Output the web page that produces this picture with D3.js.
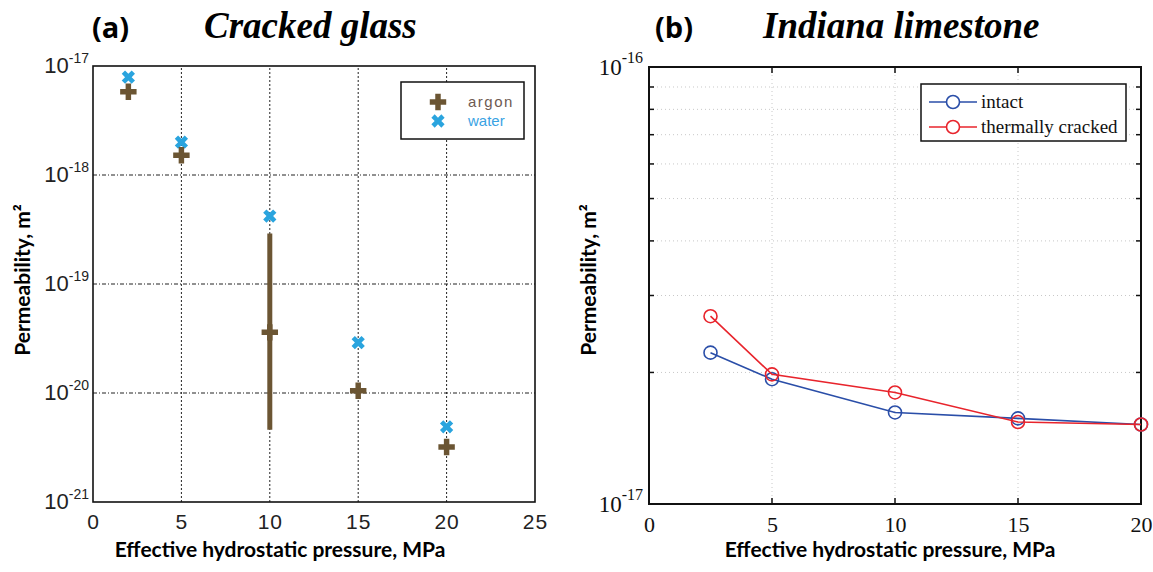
<!DOCTYPE html>
<html>
<head>
<meta charset="utf-8">
<script src="https://cdn.jsdelivr.net/npm/d3@7"></script>
<style>
  body { margin: 0; background: #fff; }
  svg { display: block; }
</style>
</head>
<body>
<svg width="1153" height="572"></svg>
<script>
// (a) cracked glass
var glassPressure = [2, 5, 10, 15, 20];
var argonPerm = [5.8e-18, 1.52e-18, 3.6e-20, 1.05e-20, 3.2e-21];
var waterPerm = [7.9e-18, 2.0e-18, 4.2e-19, 2.9e-20, 4.9e-21];
var errPressure = [10];
var errLow = [4.6e-21];
var errHigh = [2.9e-19];
var glassXTicks = [0, 5, 10, 15, 20, 25];
var glassYTicks = [-21, -20, -19, -18, -17];

// (b) Indiana limestone
var limePressure = [2.5, 5, 10, 15, 20];
var intactPerm = [2.22e-17, 1.93e-17, 1.62e-17, 1.57e-17, 1.52e-17];
var crackedPerm = [2.69e-17, 1.98e-17, 1.80e-17, 1.54e-17, 1.52e-17];
var limeXTicks = [0, 5, 10, 15, 20];
var limeYTicks = [-17, -16];
var limeMinor = [2, 3, 4, 5, 6, 7, 8, 9];

var svg = d3.select('svg');

var brown = '#6b5533';
var blueX = '#2aa4de';

// ---------- panel a ----------
var xA = d3.scaleLinear().domain([0, 25]).range([93, 535]);
var yA = d3.scaleLog().domain([1e-21, 1e-17]).range([502, 66]);

var gA = svg.append('g');

// grid
gA.selectAll('.vgrid')
  .data([5, 10, 15, 20])
  .enter().append('line')
  .attr('x1', function(d) { return xA(d); })
  .attr('x2', function(d) { return xA(d); })
  .attr('y1', yA.range()[0])
  .attr('y2', yA.range()[1])
  .attr('stroke', '#222')
  .attr('stroke-width', 1)
  .attr('stroke-dasharray', '2,2');

gA.selectAll('.hgrid')
  .data([-20, -19, -18])
  .enter().append('line')
  .attr('x1', xA.range()[0])
  .attr('x2', xA.range()[1])
  .attr('y1', function(d) { return yA(Math.pow(10, d)); })
  .attr('y2', function(d) { return yA(Math.pow(10, d)); })
  .attr('stroke', '#222')
  .attr('stroke-width', 1)
  .attr('stroke-dasharray', '4,2,1,2');

// frame
gA.append('rect')
  .attr('x', xA.range()[0])
  .attr('y', yA.range()[1])
  .attr('width', xA.range()[1] - xA.range()[0])
  .attr('height', yA.range()[0] - yA.range()[1])
  .attr('fill', 'none')
  .attr('stroke', '#111')
  .attr('stroke-width', 1.6);

// x axis
var xAxisA = d3.axisBottom(xA).tickValues(glassXTicks).tickSize(0).tickPadding(12);
gA.append('g')
  .attr('transform', 'translate(0,' + yA.range()[0] + ')')
  .call(xAxisA)
  .call(function(g) { g.select('.domain').remove(); })
  .selectAll('text')
  .attr('font-family', '"Liberation Sans Narrow", "Liberation Sans", Arial, sans-serif')
  .attr('font-size', 21)
  .attr('letter-spacing', 1)
  .attr('fill', '#222');

// y axis
var yAxisA = d3.axisLeft(yA)
  .tickValues(glassYTicks.map(function(e) { return Math.pow(10, e); }))
  .tickSize(0).tickPadding(4)
  .tickFormat(function() { return ''; });
var yg = gA.append('g')
  .attr('transform', 'translate(' + xA.range()[0] + ',0)')
  .call(yAxisA);
yg.select('.domain').remove();
yg.selectAll('.tick text')
  .data(glassYTicks)
  .attr('font-family', '"Liberation Sans Narrow", "Liberation Sans", Arial, sans-serif')
  .attr('fill', '#222')
  .attr('dy', '0.6em')
  .each(function(e) {
    var t = d3.select(this);
    t.append('tspan').attr('font-size', 22).text('10');
    t.append('tspan').attr('font-size', 14).attr('dy', -10).text(e);
  });

// error bar
gA.selectAll('.err')
  .data(errPressure)
  .enter().append('line')
  .attr('x1', function(d) { return xA(d); })
  .attr('x2', function(d) { return xA(d); })
  .attr('y1', function(d, i) { return yA(errLow[i]); })
  .attr('y2', function(d, i) { return yA(errHigh[i]); })
  .attr('stroke', brown)
  .attr('stroke-width', 5);

var plusSym = d3.symbol().type(d3.symbolCross).size(150);
var xSym = d3.symbol().type(d3.symbolCross).size(110);

gA.selectAll('.water')
  .data(glassPressure)
  .enter().append('path')
  .attr('d', xSym)
  .attr('transform', function(d, i) {
    return 'translate(' + xA(d) + ',' + yA(waterPerm[i]) + ') rotate(45)';
  })
  .attr('fill', blueX);

gA.selectAll('.argon')
  .data(glassPressure)
  .enter().append('path')
  .attr('d', plusSym)
  .attr('transform', function(d, i) {
    return 'translate(' + xA(d) + ',' + yA(argonPerm[i]) + ')';
  })
  .attr('fill', brown);

// legend a
var legA = gA.append('g');
legA.append('rect')
  .attr('x', 401).attr('y', 82).attr('width', 123).attr('height', 57)
  .attr('fill', '#fff').attr('stroke', '#111').attr('stroke-width', 1.5);
legA.append('path').attr('d', plusSym)
  .attr('transform', 'translate(438,102)').attr('fill', brown);
legA.append('path').attr('d', xSym)
  .attr('transform', 'translate(438,121) rotate(45)').attr('fill', blueX);
legA.append('text').attr('x', 468).attr('y', 107)
  .attr('font-family', '"Liberation Sans", Arial, sans-serif')
  .attr('font-size', 15).attr('letter-spacing', 1.5)
  .attr('fill', '#6e5a52').text('argon');
legA.append('text').attr('x', 468).attr('y', 126)
  .attr('font-family', '"Liberation Sans", Arial, sans-serif')
  .attr('font-size', 15)
  .attr('fill', '#3aa3e3').text('water');

// titles a
svg.append('text').attr('x', 92).attr('y', 38)
  .attr('font-family', '"Open Sans", "Noto Sans", sans-serif')
  .attr('font-weight', 'bold').attr('font-size', 29)
  .text('(a)');
svg.append('text').attr('x', 204).attr('y', 38)
  .attr('font-family', '"Liberation Serif", "Times New Roman", serif')
  .attr('font-weight', 'bold').attr('font-style', 'italic').attr('font-size', 37)
  .text('Cracked glass');

// axis labels a
svg.append('text')
  .attr('x', 280).attr('y', 557)
  .attr('text-anchor', 'middle')
  .attr('font-family', 'Lato, "Open Sans", sans-serif')
  .attr('font-weight', 'bold').attr('font-size', 21)
  .text('Effective hydrostatic pressure, MPa');
svg.append('text')
  .attr('transform', 'translate(30,280) rotate(-90)')
  .attr('text-anchor', 'middle')
  .attr('font-family', 'Lato, "Open Sans", sans-serif')
  .attr('font-weight', 'bold').attr('font-size', 21)
  .text('Permeability, m²');

// ---------- panel b ----------
var xB = d3.scaleLinear().domain([0, 20]).range([649, 1141]);
var yB = d3.scaleLog().domain([1e-17, 1e-16]).range([504, 67]);

var gB = svg.append('g');
var minorVals = limeMinor.map(function(m) { return m * 1e-17; });

gB.selectAll('.vgridb')
  .data([5, 10, 15])
  .enter().append('line')
  .attr('x1', function(d) { return xB(d); })
  .attr('x2', function(d) { return xB(d); })
  .attr('y1', yB.range()[0])
  .attr('y2', yB.range()[1])
  .attr('stroke', '#c8c8c8')
  .attr('stroke-width', 1)
  .attr('stroke-dasharray', '1,3');

gB.selectAll('.hgridb')
  .data(minorVals)
  .enter().append('line')
  .attr('x1', xB.range()[0])
  .attr('x2', xB.range()[1])
  .attr('y1', function(d) { return yB(d); })
  .attr('y2', function(d) { return yB(d); })
  .attr('stroke', '#c8c8c8')
  .attr('stroke-width', 1)
  .attr('stroke-dasharray', '1,3');

// inner ticks
[xB.range()[0], xB.range()[1]].forEach(function(x0, k) {
  var dir = k === 0 ? 1 : -1;
  gB.selectAll(null)
    .data(minorVals)
    .enter().append('line')
    .attr('x1', x0).attr('x2', x0 + dir * 5)
    .attr('y1', function(d) { return yB(d); })
    .attr('y2', function(d) { return yB(d); })
    .attr('stroke', '#111').attr('stroke-width', 1.5);
});
[yB.range()[0], yB.range()[1]].forEach(function(y0, k) {
  var dir = k === 0 ? -1 : 1;
  gB.selectAll(null)
    .data([5, 10, 15])
    .enter().append('line')
    .attr('y1', y0).attr('y2', y0 + dir * 6)
    .attr('x1', function(d) { return xB(d); })
    .attr('x2', function(d) { return xB(d); })
    .attr('stroke', '#111').attr('stroke-width', 1.5);
});

gB.append('rect')
  .attr('x', xB.range()[0])
  .attr('y', yB.range()[1])
  .attr('width', xB.range()[1] - xB.range()[0])
  .attr('height', yB.range()[0] - yB.range()[1])
  .attr('fill', 'none')
  .attr('stroke', '#111')
  .attr('stroke-width', 2);

var xAxisB = d3.axisBottom(xB).tickValues(limeXTicks).tickSize(0).tickPadding(12);
gB.append('g')
  .attr('transform', 'translate(0,' + yB.range()[0] + ')')
  .call(xAxisB)
  .call(function(g) { g.select('.domain').remove(); })
  .selectAll('text')
  .attr('font-family', '"Liberation Serif", "Times New Roman", serif')
  .attr('font-size', 22)
  .attr('fill', '#111');

var yAxisB = d3.axisLeft(yB)
  .tickValues(limeYTicks.map(function(e) { return Math.pow(10, e); }))
  .tickSize(0).tickPadding(6)
  .tickFormat(function() { return ''; });
var ygB = gB.append('g')
  .attr('transform', 'translate(' + xB.range()[0] + ',0)')
  .call(yAxisB);
ygB.select('.domain').remove();
ygB.selectAll('.tick text')
  .data(limeYTicks)
  .attr('font-family', '"Liberation Serif", "Times New Roman", serif')
  .attr('fill', '#111')
  .attr('dy', '0.75em')
  .each(function(e) {
    var t = d3.select(this);
    t.append('tspan').attr('font-size', 23).text('10');
    t.append('tspan').attr('font-size', 16).attr('dy', -12).text(e);
  });

var lineB = d3.line()
  .x(function(d) { return xB(d[0]); })
  .y(function(d) { return yB(d[1]); });

var seriesB = [
  { vals: intactPerm, color: '#2a4ea8' },
  { vals: crackedPerm, color: '#e8242c' }
];
seriesB.forEach(function(s) {
  var pts = limePressure.map(function(p, i) { return [p, s.vals[i]]; });
  gB.append('path')
    .attr('d', lineB(pts))
    .attr('fill', 'none')
    .attr('stroke', s.color)
    .attr('stroke-width', 1.6);
  gB.selectAll(null)
    .data(pts)
    .enter().append('circle')
    .attr('cx', function(d) { return xB(d[0]); })
    .attr('cy', function(d) { return yB(d[1]); })
    .attr('r', 6.5)
    .attr('fill', 'none')
    .attr('stroke', s.color)
    .attr('stroke-width', 1.6);
});

// legend b
var legB = gB.append('g');
legB.append('rect')
  .attr('x', 921).attr('y', 84).attr('width', 205).attr('height', 57)
  .attr('fill', '#fff').attr('stroke', '#111').attr('stroke-width', 1.5);
var legNames = ['intact', 'thermally cracked'];
seriesB.forEach(function(s, i) {
  var yy = 102 + i * 25;
  legB.append('line').attr('x1', 929).attr('x2', 977).attr('y1', yy).attr('y2', yy)
    .attr('stroke', s.color).attr('stroke-width', 1.6);
  legB.append('circle').attr('cx', 953).attr('cy', yy).attr('r', 6.5)
    .attr('fill', '#fff').attr('stroke', s.color).attr('stroke-width', 1.6);
  legB.append('text').attr('x', 981).attr('y', yy + 6)
    .attr('font-family', '"Liberation Serif", "Times New Roman", serif')
    .attr('font-size', 19).attr('fill', '#111')
    .text(legNames[i]);
});

// titles b
svg.append('text').attr('x', 655).attr('y', 38)
  .attr('font-family', '"Open Sans", "Noto Sans", sans-serif')
  .attr('font-weight', 'bold').attr('font-size', 29)
  .text('(b)');
svg.append('text').attr('x', 763).attr('y', 38)
  .attr('font-family', '"Liberation Serif", "Times New Roman", serif')
  .attr('font-weight', 'bold').attr('font-style', 'italic').attr('font-size', 37)
  .text('Indiana limestone');

svg.append('text')
  .attr('x', 890).attr('y', 557)
  .attr('text-anchor', 'middle')
  .attr('font-family', 'Lato, "Open Sans", sans-serif')
  .attr('font-weight', 'bold').attr('font-size', 21)
  .text('Effective hydrostatic pressure, MPa');
svg.append('text')
  .attr('transform', 'translate(596,280) rotate(-90)')
  .attr('text-anchor', 'middle')
  .attr('font-family', 'Lato, "Open Sans", sans-serif')
  .attr('font-weight', 'bold').attr('font-size', 21)
  .text('Permeability, m²');
</script>
</body>
</html>
